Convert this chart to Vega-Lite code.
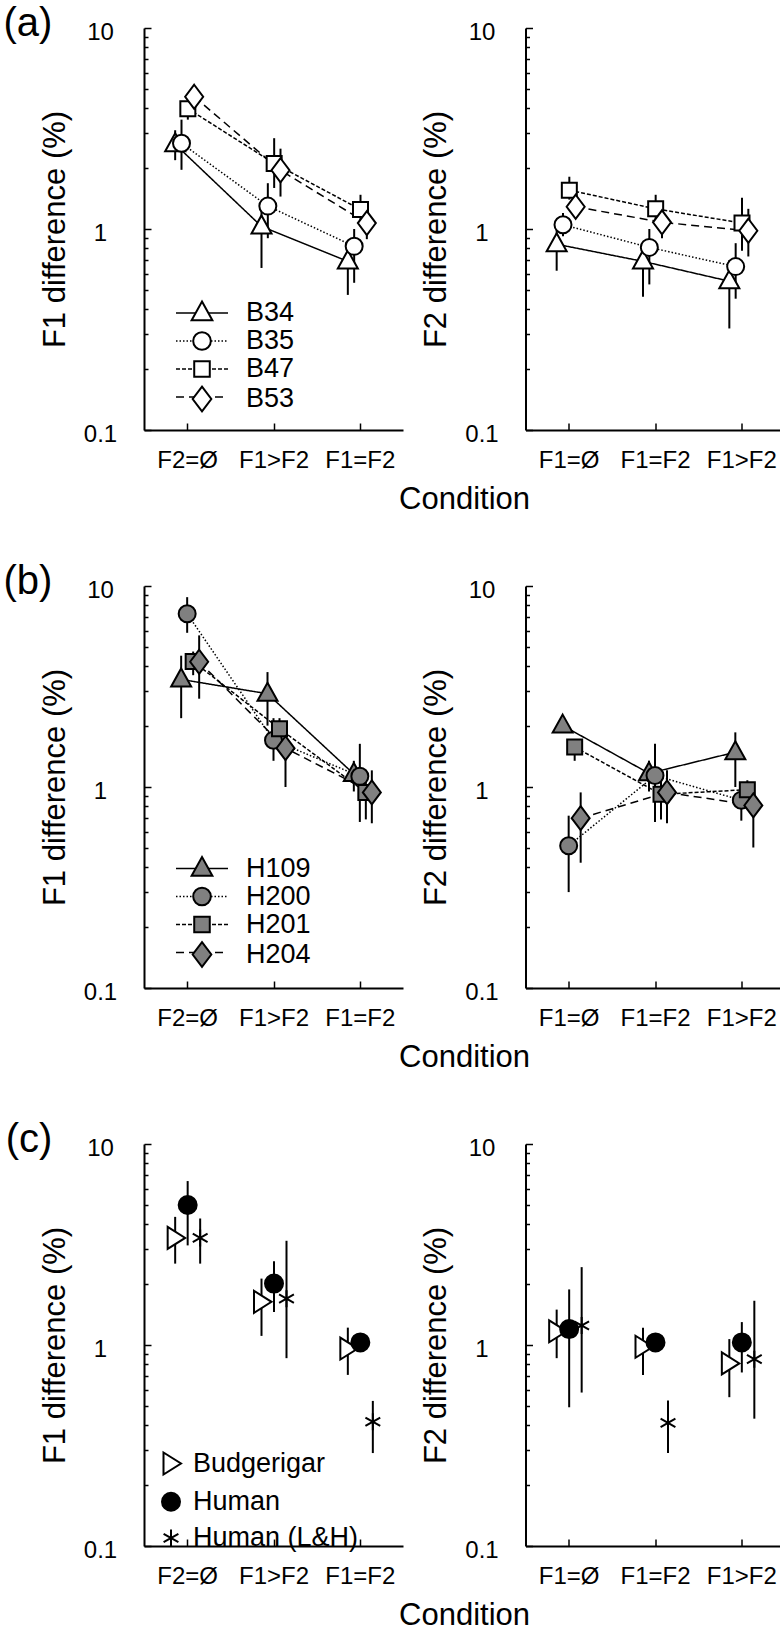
{
  "$schema": "https://vega.github.io/schema/vega-lite/v6.json",
  "background": "white",
  "padding": {"left": 3, "top": 4, "right": 0, "bottom": 0},
  "autosize": {"type": "pad"},
  "config": {
    "font": "Liberation Sans",
    "view": {"stroke": null},
    "axis": {"domainColor": "black", "domainWidth": 2, "tickColor": "black", "tickWidth": 1.5, "labelColor": "black", "titleColor": "black", "labelFont": "Liberation Sans", "titleFont": "Liberation Sans", "labelFontSize": 24, "titleFontSize": 31, "titleFontWeight": "normal", "grid": false, "labelFlush": false, "labelOverlap": false},
    "axisX": {"labelAngle": 0, "tickSize": -7, "labelPadding": 25},
    "axisY": {"labelAlign": "center", "labelBaseline": "middle", "labelPadding": 51, "labelOffset": 4, "titlePadding": 12},
    "legend": {"labelFont": "Liberation Sans", "labelColor": "black", "labelFontSize": 27, "labelLimit": 400, "rowPadding": 0, "padding": 0, "titlePadding": 0},
    "title": {"font": "Liberation Sans", "fontWeight": "normal", "color": "black"}
  },
  "datasets": {
    "a": [
      {"measure": "F1", "cond": "F2=Ø", "subject": "B34", "value": 2.64, "lo": 2.2, "hi": 3.1},
      {"measure": "F1", "cond": "F1>F2", "subject": "B34", "value": 1.03, "lo": 0.64, "hi": 1.32},
      {"measure": "F1", "cond": "F1=F2", "subject": "B34", "value": 0.69, "lo": 0.47, "hi": 0.88},
      {"measure": "F1", "cond": "F2=Ø", "subject": "B35", "value": 2.67, "lo": 1.97, "hi": 3.5},
      {"measure": "F1", "cond": "F1>F2", "subject": "B35", "value": 1.3, "lo": 0.9, "hi": 1.69},
      {"measure": "F1", "cond": "F1=F2", "subject": "B35", "value": 0.82, "lo": 0.54, "hi": 1.0},
      {"measure": "F1", "cond": "F2=Ø", "subject": "B47", "value": 3.97, "lo": 3.5, "hi": 4.5},
      {"measure": "F1", "cond": "F1>F2", "subject": "B47", "value": 2.12, "lo": 1.6, "hi": 2.83},
      {"measure": "F1", "cond": "F1=F2", "subject": "B47", "value": 1.25, "lo": 1.03, "hi": 1.48},
      {"measure": "F1", "cond": "F2=Ø", "subject": "B53", "value": 4.55, "lo": 4.15, "hi": 5.0},
      {"measure": "F1", "cond": "F1>F2", "subject": "B53", "value": 1.96, "lo": 1.45, "hi": 2.51},
      {"measure": "F1", "cond": "F1=F2", "subject": "B53", "value": 1.07, "lo": 0.89, "hi": 1.25},
      {"measure": "F2", "cond": "F1=Ø", "subject": "B34", "value": 0.84, "lo": 0.62, "hi": 1.0},
      {"measure": "F2", "cond": "F1=F2", "subject": "B34", "value": 0.69, "lo": 0.46, "hi": 0.86},
      {"measure": "F2", "cond": "F1>F2", "subject": "B34", "value": 0.55, "lo": 0.32, "hi": 0.7},
      {"measure": "F2", "cond": "F1=Ø", "subject": "B35", "value": 1.05, "lo": 0.92, "hi": 1.2},
      {"measure": "F2", "cond": "F1=F2", "subject": "B35", "value": 0.81, "lo": 0.53, "hi": 1.0},
      {"measure": "F2", "cond": "F1>F2", "subject": "B35", "value": 0.65, "lo": 0.45, "hi": 0.85},
      {"measure": "F2", "cond": "F1=Ø", "subject": "B47", "value": 1.56, "lo": 1.4, "hi": 1.82},
      {"measure": "F2", "cond": "F1=F2", "subject": "B47", "value": 1.26, "lo": 1.1, "hi": 1.48},
      {"measure": "F2", "cond": "F1>F2", "subject": "B47", "value": 1.07, "lo": 0.78, "hi": 1.43},
      {"measure": "F2", "cond": "F1=Ø", "subject": "B53", "value": 1.29, "lo": 1.2, "hi": 1.4},
      {"measure": "F2", "cond": "F1=F2", "subject": "B53", "value": 1.08, "lo": 0.9, "hi": 1.23},
      {"measure": "F2", "cond": "F1>F2", "subject": "B53", "value": 0.98, "lo": 0.73, "hi": 1.26}
    ],
    "b": [
      {"measure": "F1", "cond": "F2=Ø", "subject": "H109", "value": 3.43, "lo": 2.2, "hi": 4.5},
      {"measure": "F1", "cond": "F1>F2", "subject": "H109", "value": 2.91, "lo": 2.02, "hi": 3.73},
      {"measure": "F1", "cond": "F1=F2", "subject": "H109", "value": 1.16, "lo": 0.95, "hi": 1.35},
      {"measure": "F1", "cond": "F2=Ø", "subject": "H200", "value": 7.28, "lo": 5.85, "hi": 8.8},
      {"measure": "F1", "cond": "F1>F2", "subject": "H200", "value": 1.71, "lo": 1.35, "hi": 2.2},
      {"measure": "F1", "cond": "F1=F2", "subject": "H200", "value": 1.13, "lo": 0.67, "hi": 1.64},
      {"measure": "F1", "cond": "F2=Ø", "subject": "H201", "value": 4.21, "lo": 3.6, "hi": 4.72},
      {"measure": "F1", "cond": "F1>F2", "subject": "H201", "value": 1.95, "lo": 1.65, "hi": 2.2},
      {"measure": "F1", "cond": "F1=F2", "subject": "H201", "value": 0.94, "lo": 0.69, "hi": 1.2},
      {"measure": "F1", "cond": "F2=Ø", "subject": "H204", "value": 4.2, "lo": 2.75, "hi": 5.68},
      {"measure": "F1", "cond": "F1>F2", "subject": "H204", "value": 1.56, "lo": 1.0, "hi": 2.02},
      {"measure": "F1", "cond": "F1=F2", "subject": "H204", "value": 0.94, "lo": 0.66, "hi": 1.21},
      {"measure": "F2", "cond": "F1=Ø", "subject": "H109", "value": 2.02, "lo": 1.9, "hi": 2.15},
      {"measure": "F2", "cond": "F1=F2", "subject": "H109", "value": 1.17, "lo": 0.95, "hi": 1.35},
      {"measure": "F2", "cond": "F1>F2", "subject": "H109", "value": 1.49, "lo": 1.0, "hi": 1.87},
      {"measure": "F2", "cond": "F1=Ø", "subject": "H200", "value": 0.51, "lo": 0.3, "hi": 0.72},
      {"measure": "F2", "cond": "F1=F2", "subject": "H200", "value": 1.14, "lo": 0.67, "hi": 1.64},
      {"measure": "F2", "cond": "F1>F2", "subject": "H200", "value": 0.86, "lo": 0.68, "hi": 1.0},
      {"measure": "F2", "cond": "F1=Ø", "subject": "H201", "value": 1.58, "lo": 1.35, "hi": 1.7},
      {"measure": "F2", "cond": "F1=F2", "subject": "H201", "value": 0.92, "lo": 0.69, "hi": 1.15},
      {"measure": "F2", "cond": "F1>F2", "subject": "H201", "value": 0.97, "lo": 0.8, "hi": 1.08},
      {"measure": "F2", "cond": "F1=Ø", "subject": "H204", "value": 0.7, "lo": 0.42, "hi": 0.94},
      {"measure": "F2", "cond": "F1=F2", "subject": "H204", "value": 0.94, "lo": 0.66, "hi": 1.21},
      {"measure": "F2", "cond": "F1>F2", "subject": "H204", "value": 0.81, "lo": 0.5, "hi": 0.98}
    ],
    "c": [
      {"measure": "F1", "cond": "F2=Ø", "species": "Budgerigar", "value": 3.41, "lo": 2.54, "hi": 4.34},
      {"measure": "F1", "cond": "F1>F2", "species": "Budgerigar", "value": 1.64, "lo": 1.11, "hi": 2.14},
      {"measure": "F1", "cond": "F1=F2", "species": "Budgerigar", "value": 0.96, "lo": 0.71, "hi": 1.22},
      {"measure": "F1", "cond": "F2=Ø", "species": "Human", "value": 4.97, "lo": 3.13, "hi": 6.54},
      {"measure": "F1", "cond": "F1>F2", "species": "Human", "value": 2.02, "lo": 1.46, "hi": 2.61},
      {"measure": "F1", "cond": "F1=F2", "species": "Human", "value": 1.03, "lo": 0.97, "hi": 1.09},
      {"measure": "F1", "cond": "F2=Ø", "species": "Human (L&H)", "value": 3.41, "lo": 2.54, "hi": 4.26},
      {"measure": "F1", "cond": "F1>F2", "species": "Human (L&H)", "value": 1.7, "lo": 0.86, "hi": 3.3},
      {"measure": "F1", "cond": "F1=F2", "species": "Human (L&H)", "value": 0.415, "lo": 0.29, "hi": 0.527},
      {"measure": "F2", "cond": "F1=Ø", "species": "Budgerigar", "value": 1.17, "lo": 0.86, "hi": 1.5},
      {"measure": "F2", "cond": "F1=F2", "species": "Budgerigar", "value": 0.98, "lo": 0.71, "hi": 1.22},
      {"measure": "F2", "cond": "F1>F2", "species": "Budgerigar", "value": 0.81, "lo": 0.55, "hi": 1.07},
      {"measure": "F2", "cond": "F1=Ø", "species": "Human", "value": 1.2, "lo": 0.49, "hi": 1.89},
      {"measure": "F2", "cond": "F1=F2", "species": "Human", "value": 1.03, "lo": 0.97, "hi": 1.09},
      {"measure": "F2", "cond": "F1>F2", "species": "Human", "value": 1.03, "lo": 0.73, "hi": 1.3},
      {"measure": "F2", "cond": "F1=Ø", "species": "Human (L&H)", "value": 1.25, "lo": 0.58, "hi": 2.44},
      {"measure": "F2", "cond": "F1=F2", "species": "Human (L&H)", "value": 0.41, "lo": 0.29, "hi": 0.53},
      {"measure": "F2", "cond": "F1>F2", "species": "Human (L&H)", "value": 0.85, "lo": 0.43, "hi": 1.66}
    ]
  },
  "columns": 2,
  "spacing": {"row": 156, "column": 122.5},
  "bounds": "flush",
  "resolve": {"scale": {"x": "independent", "y": "independent", "xOffset": "independent", "shape": "independent", "strokeDash": "independent", "fill": "independent"}},
  "concat": [
    {
      "width": 259, "height": 402,
      "title": {"text": "(a)", "orient": "left", "angle": 0, "anchor": "end", "frame": "group", "align": "left", "baseline": "middle", "fontSize": 40, "offset": -13, "dy": -4},
      "data": {"name": "a"},
      "transform": [{"filter": "datum.measure == 'F1'"}],
      "encoding": {
        "x": {"field": "cond", "type": "nominal", "sort": ["F2=Ø", "F1>F2", "F1=F2"], "scale": {"type": "point", "padding": 0.5}, "axis": {"title": "Condition", "titleX": 320, "titleY": 78, "titleBaseline": "alphabetic", "titleAlign": "center"}},
        "xOffset": {"field": "subject", "type": "nominal", "scale": {"type": "point", "range": [-12, 7], "padding": 0}}
      },
      "layer": [
        {"mark": {"type": "rule", "color": "black", "strokeWidth": 2},
         "encoding": {"y": {"field": "lo", "type": "quantitative", "scale": {"type": "log", "domain": [0.1, 10]}, "axis": {"title": "F1 difference (%)", "values": [0.1,0.2,0.3,0.4,0.5,0.6,0.7,0.8,0.9,1,2,3,4,5,6,7,8,9,10], "labelExpr": "datum.value == 0.1 ? '0.1' : datum.value == 1 ? '1' : datum.value == 10 ? '10' : ''", "tickSize": {"condition": {"test": "datum.value == 0.1 || datum.value == 1 || datum.value == 10", "value": -7}, "value": -4}}}, "y2": {"field": "hi"}}},
        {"mark": {"type": "line", "color": "black", "strokeWidth": 1.5},
         "encoding": {"y": {"field": "value", "type": "quantitative", "scale": {"type": "log", "domain": [0.1, 10]}, "axis": {"title": "F1 difference (%)", "values": [0.1,0.2,0.3,0.4,0.5,0.6,0.7,0.8,0.9,1,2,3,4,5,6,7,8,9,10], "labelExpr": "datum.value == 0.1 ? '0.1' : datum.value == 1 ? '1' : datum.value == 10 ? '10' : ''", "tickSize": {"condition": {"test": "datum.value == 0.1 || datum.value == 1 || datum.value == 10", "value": -7}, "value": -4}}},
                      "strokeDash": {"field": "subject", "type": "nominal", "scale": {"range": [[1, 0], [1.5, 2], [4, 2], [8, 5]]}, "legend": {"orient": "none", "legendX": 44.5, "legendY": 271.5, "title": null, "symbolType": "M-2.6,0L2.6,0", "symbolSize": 400, "symbolStrokeWidth": 1.5, "labelExpr": "''", "labelOpacity": 0, "zindex": 1}}}},
        {"mark": {"type": "point", "filled": true, "fill": "white", "stroke": "black", "strokeWidth": 2, "size": 400, "opacity": 1},
         "encoding": {"y": {"field": "value", "type": "quantitative", "scale": {"type": "log", "domain": [0.1, 10]}, "axis": {"title": "F1 difference (%)", "values": [0.1,0.2,0.3,0.4,0.5,0.6,0.7,0.8,0.9,1,2,3,4,5,6,7,8,9,10], "labelExpr": "datum.value == 0.1 ? '0.1' : datum.value == 1 ? '1' : datum.value == 10 ? '10' : ''", "tickSize": {"condition": {"test": "datum.value == 0.1 || datum.value == 1 || datum.value == 10", "value": -7}, "value": -4}}},
                      "shape": {"field": "subject", "type": "nominal", "scale": {"domain": ["B34", "B35", "B47", "B53"], "range": ["M0,-1.1L1,0.7L-1,0.7Z", "M0.85,0A0.85,0.85,0,1,1,-0.85,0A0.85,0.85,0,1,1,0.85,0Z", "M-0.75,-0.75L0.75,-0.75L0.75,0.75L-0.75,0.75Z", "M0,-1.2L0.9,0L0,1.2L-0.9,0Z"]}, "legend": {"orient": "none", "legendX": 44.5, "legendY": 271.5, "title": null, "symbolSize": 430, "symbolStrokeWidth": 2, "labelOffset": 30.5, "zindex": 2}}}}
      ]
    },
    {
      "width": 259, "height": 402,
      "data": {"name": "a"},
      "transform": [{"filter": "datum.measure == 'F2'"}],
      "encoding": {
        "x": {"field": "cond", "type": "nominal", "sort": ["F1=Ø", "F1=F2", "F1>F2"], "scale": {"type": "point", "padding": 0.5}, "axis": {"title": null}},
        "xOffset": {"field": "subject", "type": "nominal", "scale": {"type": "point", "range": [-12, 7], "padding": 0}}
      },
      "layer": [
        {"mark": {"type": "rule", "color": "black", "strokeWidth": 2},
         "encoding": {"y": {"field": "lo", "type": "quantitative", "scale": {"type": "log", "domain": [0.1, 10]}, "axis": {"title": "F2 difference (%)", "values": [0.1,0.2,0.3,0.4,0.5,0.6,0.7,0.8,0.9,1,2,3,4,5,6,7,8,9,10], "labelExpr": "datum.value == 0.1 ? '0.1' : datum.value == 1 ? '1' : datum.value == 10 ? '10' : ''", "tickSize": {"condition": {"test": "datum.value == 0.1 || datum.value == 1 || datum.value == 10", "value": -7}, "value": -4}}}, "y2": {"field": "hi"}}},
        {"mark": {"type": "line", "color": "black", "strokeWidth": 1.5},
         "encoding": {"y": {"field": "value", "type": "quantitative", "scale": {"type": "log", "domain": [0.1, 10]}, "axis": {"title": "F2 difference (%)", "values": [0.1,0.2,0.3,0.4,0.5,0.6,0.7,0.8,0.9,1,2,3,4,5,6,7,8,9,10], "labelExpr": "datum.value == 0.1 ? '0.1' : datum.value == 1 ? '1' : datum.value == 10 ? '10' : ''", "tickSize": {"condition": {"test": "datum.value == 0.1 || datum.value == 1 || datum.value == 10", "value": -7}, "value": -4}}},
                      "strokeDash": {"field": "subject", "type": "nominal", "scale": {"range": [[1, 0], [1.5, 2], [4, 2], [8, 5]]}, "legend": null}}},
        {"mark": {"type": "point", "filled": true, "fill": "white", "stroke": "black", "strokeWidth": 2, "size": 400, "opacity": 1},
         "encoding": {"y": {"field": "value", "type": "quantitative", "scale": {"type": "log", "domain": [0.1, 10]}, "axis": {"title": "F2 difference (%)", "values": [0.1,0.2,0.3,0.4,0.5,0.6,0.7,0.8,0.9,1,2,3,4,5,6,7,8,9,10], "labelExpr": "datum.value == 0.1 ? '0.1' : datum.value == 1 ? '1' : datum.value == 10 ? '10' : ''", "tickSize": {"condition": {"test": "datum.value == 0.1 || datum.value == 1 || datum.value == 10", "value": -7}, "value": -4}}},
                      "shape": {"field": "subject", "type": "nominal", "scale": {"domain": ["B34", "B35", "B47", "B53"], "range": ["M0,-1.1L1,0.7L-1,0.7Z", "M0.85,0A0.85,0.85,0,1,1,-0.85,0A0.85,0.85,0,1,1,0.85,0Z", "M-0.75,-0.75L0.75,-0.75L0.75,0.75L-0.75,0.75Z", "M0,-1.2L0.9,0L0,1.2L-0.9,0Z"]}, "legend": null}}}
      ]
    },
    {
      "width": 259, "height": 402,
      "title": {"text": "(b)", "orient": "left", "angle": 0, "anchor": "end", "frame": "group", "align": "left", "baseline": "middle", "fontSize": 40, "offset": -13, "dy": -4},
      "data": {"name": "b"},
      "transform": [{"filter": "datum.measure == 'F1'"}],
      "encoding": {
        "x": {"field": "cond", "type": "nominal", "sort": ["F2=Ø", "F1>F2", "F1=F2"], "scale": {"type": "point", "padding": 0.5}, "axis": {"title": "Condition", "titleX": 320, "titleY": 78, "titleBaseline": "alphabetic", "titleAlign": "center"}},
        "xOffset": {"field": "subject", "type": "nominal", "scale": {"type": "point", "range": [-6, 12], "padding": 0}}
      },
      "layer": [
        {"mark": {"type": "rule", "color": "black", "strokeWidth": 2},
         "encoding": {"y": {"field": "lo", "type": "quantitative", "scale": {"type": "log", "domain": [0.1, 10]}, "axis": {"title": "F1 difference (%)", "values": [0.1,0.2,0.3,0.4,0.5,0.6,0.7,0.8,0.9,1,2,3,4,5,6,7,8,9,10], "labelExpr": "datum.value == 0.1 ? '0.1' : datum.value == 1 ? '1' : datum.value == 10 ? '10' : ''", "tickSize": {"condition": {"test": "datum.value == 0.1 || datum.value == 1 || datum.value == 10", "value": -7}, "value": -4}}}, "y2": {"field": "hi"}}},
        {"mark": {"type": "line", "color": "black", "strokeWidth": 1.5},
         "encoding": {"y": {"field": "value", "type": "quantitative", "scale": {"type": "log", "domain": [0.1, 10]}, "axis": {"title": "F1 difference (%)", "values": [0.1,0.2,0.3,0.4,0.5,0.6,0.7,0.8,0.9,1,2,3,4,5,6,7,8,9,10], "labelExpr": "datum.value == 0.1 ? '0.1' : datum.value == 1 ? '1' : datum.value == 10 ? '10' : ''", "tickSize": {"condition": {"test": "datum.value == 0.1 || datum.value == 1 || datum.value == 10", "value": -7}, "value": -4}}},
                      "strokeDash": {"field": "subject", "type": "nominal", "scale": {"range": [[1, 0], [1.5, 2], [4, 2], [8, 5]]}, "legend": {"orient": "none", "legendX": 44.5, "legendY": 269, "title": null, "symbolType": "M-2.6,0L2.6,0", "symbolSize": 400, "symbolStrokeWidth": 1.5, "labelExpr": "''", "labelOpacity": 0, "zindex": 1}}}},
        {"mark": {"type": "point", "filled": true, "fill": "#808080", "stroke": "black", "strokeWidth": 2, "size": 400, "opacity": 1},
         "encoding": {"y": {"field": "value", "type": "quantitative", "scale": {"type": "log", "domain": [0.1, 10]}, "axis": {"title": "F1 difference (%)", "values": [0.1,0.2,0.3,0.4,0.5,0.6,0.7,0.8,0.9,1,2,3,4,5,6,7,8,9,10], "labelExpr": "datum.value == 0.1 ? '0.1' : datum.value == 1 ? '1' : datum.value == 10 ? '10' : ''", "tickSize": {"condition": {"test": "datum.value == 0.1 || datum.value == 1 || datum.value == 10", "value": -7}, "value": -4}}},
                      "shape": {"field": "subject", "type": "nominal", "scale": {"domain": ["H109", "H200", "H201", "H204"], "range": ["M0,-1.1L1,0.7L-1,0.7Z", "M0.85,0A0.85,0.85,0,1,1,-0.85,0A0.85,0.85,0,1,1,0.85,0Z", "M-0.75,-0.75L0.75,-0.75L0.75,0.75L-0.75,0.75Z", "M0,-1.2L0.9,0L0,1.2L-0.9,0Z"]}, "legend": {"orient": "none", "legendX": 44.5, "legendY": 269, "title": null, "symbolSize": 430, "symbolStrokeWidth": 2, "labelOffset": 30.5, "zindex": 2}}}}
      ]
    },
    {
      "width": 259, "height": 402,
      "data": {"name": "b"},
      "transform": [{"filter": "datum.measure == 'F2'"}],
      "encoding": {
        "x": {"field": "cond", "type": "nominal", "sort": ["F1=Ø", "F1=F2", "F1>F2"], "scale": {"type": "point", "padding": 0.5}, "axis": {"title": null}},
        "xOffset": {"field": "subject", "type": "nominal", "scale": {"type": "point", "range": [-6, 12], "padding": 0}}
      },
      "layer": [
        {"mark": {"type": "rule", "color": "black", "strokeWidth": 2},
         "encoding": {"y": {"field": "lo", "type": "quantitative", "scale": {"type": "log", "domain": [0.1, 10]}, "axis": {"title": "F2 difference (%)", "values": [0.1,0.2,0.3,0.4,0.5,0.6,0.7,0.8,0.9,1,2,3,4,5,6,7,8,9,10], "labelExpr": "datum.value == 0.1 ? '0.1' : datum.value == 1 ? '1' : datum.value == 10 ? '10' : ''", "tickSize": {"condition": {"test": "datum.value == 0.1 || datum.value == 1 || datum.value == 10", "value": -7}, "value": -4}}}, "y2": {"field": "hi"}}},
        {"mark": {"type": "line", "color": "black", "strokeWidth": 1.5},
         "encoding": {"y": {"field": "value", "type": "quantitative", "scale": {"type": "log", "domain": [0.1, 10]}, "axis": {"title": "F2 difference (%)", "values": [0.1,0.2,0.3,0.4,0.5,0.6,0.7,0.8,0.9,1,2,3,4,5,6,7,8,9,10], "labelExpr": "datum.value == 0.1 ? '0.1' : datum.value == 1 ? '1' : datum.value == 10 ? '10' : ''", "tickSize": {"condition": {"test": "datum.value == 0.1 || datum.value == 1 || datum.value == 10", "value": -7}, "value": -4}}},
                      "strokeDash": {"field": "subject", "type": "nominal", "scale": {"range": [[1, 0], [1.5, 2], [4, 2], [8, 5]]}, "legend": null}}},
        {"mark": {"type": "point", "filled": true, "fill": "#808080", "stroke": "black", "strokeWidth": 2, "size": 400, "opacity": 1},
         "encoding": {"y": {"field": "value", "type": "quantitative", "scale": {"type": "log", "domain": [0.1, 10]}, "axis": {"title": "F2 difference (%)", "values": [0.1,0.2,0.3,0.4,0.5,0.6,0.7,0.8,0.9,1,2,3,4,5,6,7,8,9,10], "labelExpr": "datum.value == 0.1 ? '0.1' : datum.value == 1 ? '1' : datum.value == 10 ? '10' : ''", "tickSize": {"condition": {"test": "datum.value == 0.1 || datum.value == 1 || datum.value == 10", "value": -7}, "value": -4}}},
                      "shape": {"field": "subject", "type": "nominal", "scale": {"domain": ["H109", "H200", "H201", "H204"], "range": ["M0,-1.1L1,0.7L-1,0.7Z", "M0.85,0A0.85,0.85,0,1,1,-0.85,0A0.85,0.85,0,1,1,0.85,0Z", "M-0.75,-0.75L0.75,-0.75L0.75,0.75L-0.75,0.75Z", "M0,-1.2L0.9,0L0,1.2L-0.9,0Z"]}, "legend": null}}}
      ]
    },
    {
      "width": 259, "height": 402,
      "title": {"text": "(c)", "orient": "left", "angle": 0, "anchor": "end", "frame": "group", "align": "left", "baseline": "middle", "fontSize": 40, "offset": -13, "dy": -4},
      "data": {"name": "c"},
      "transform": [{"filter": "datum.measure == 'F1'"}],
      "encoding": {
        "x": {"field": "cond", "type": "nominal", "sort": ["F2=Ø", "F1>F2", "F1=F2"], "scale": {"type": "point", "padding": 0.5}, "axis": {"title": "Condition", "titleX": 320, "titleY": 78, "titleBaseline": "alphabetic", "titleAlign": "center"}},
        "xOffset": {"field": "species", "type": "nominal", "scale": {"type": "point", "range": [-12, 13], "padding": 0}}
      },
      "layer": [
        {"mark": {"type": "rule", "color": "black", "strokeWidth": 2},
         "encoding": {"y": {"field": "lo", "type": "quantitative", "scale": {"type": "log", "domain": [0.1, 10]}, "axis": {"title": "F1 difference (%)", "values": [0.1,0.2,0.3,0.4,0.5,0.6,0.7,0.8,0.9,1,2,3,4,5,6,7,8,9,10], "labelExpr": "datum.value == 0.1 ? '0.1' : datum.value == 1 ? '1' : datum.value == 10 ? '10' : ''", "tickSize": {"condition": {"test": "datum.value == 0.1 || datum.value == 1 || datum.value == 10", "value": -7}, "value": -4}}}, "y2": {"field": "hi"}}},
        {"mark": {"type": "point", "filled": true, "stroke": "black", "strokeWidth": 2, "size": 400, "opacity": 1},
         "encoding": {"y": {"field": "value", "type": "quantitative", "scale": {"type": "log", "domain": [0.1, 10]}, "axis": {"title": "F1 difference (%)", "values": [0.1,0.2,0.3,0.4,0.5,0.6,0.7,0.8,0.9,1,2,3,4,5,6,7,8,9,10], "labelExpr": "datum.value == 0.1 ? '0.1' : datum.value == 1 ? '1' : datum.value == 10 ? '10' : ''", "tickSize": {"condition": {"test": "datum.value == 0.1 || datum.value == 1 || datum.value == 10", "value": -7}, "value": -4}}},
                      "shape": {"field": "species", "type": "nominal", "scale": {"domain": ["Budgerigar", "Human", "Human (L&H)"], "range": ["M-0.75,-1.1L1,0L-0.75,1.1Z", "M0.9,0A0.9,0.9,0,1,1,-0.9,0A0.9,0.9,0,1,1,0.9,0Z", "M0,-0.85L0,0.85M-0.74,-0.42L0.74,0.42M-0.74,0.42L0.74,-0.42"]}, "legend": {"orient": "none", "legendX": 13.5, "legendY": 306, "title": null, "symbolSize": 400, "symbolStrokeWidth": 2, "labelOffset": 8.5, "rowPadding": 8.25}},
                      "fill": {"field": "species", "type": "nominal", "scale": {"domain": ["Budgerigar", "Human", "Human (L&H)"], "range": ["white", "black", "transparent"]}, "legend": {"orient": "none", "legendX": 13.5, "legendY": 306, "title": null, "symbolSize": 400, "symbolStrokeWidth": 2, "labelOffset": 8.5, "rowPadding": 8.25}}}}
      ]
    },
    {
      "width": 259, "height": 402,
      "data": {"name": "c"},
      "transform": [{"filter": "datum.measure == 'F2'"}],
      "encoding": {
        "x": {"field": "cond", "type": "nominal", "sort": ["F1=Ø", "F1=F2", "F1>F2"], "scale": {"type": "point", "padding": 0.5}, "axis": {"title": null}},
        "xOffset": {"field": "species", "type": "nominal", "scale": {"type": "point", "range": [-12, 13], "padding": 0}}
      },
      "layer": [
        {"mark": {"type": "rule", "color": "black", "strokeWidth": 2},
         "encoding": {"y": {"field": "lo", "type": "quantitative", "scale": {"type": "log", "domain": [0.1, 10]}, "axis": {"title": "F2 difference (%)", "values": [0.1,0.2,0.3,0.4,0.5,0.6,0.7,0.8,0.9,1,2,3,4,5,6,7,8,9,10], "labelExpr": "datum.value == 0.1 ? '0.1' : datum.value == 1 ? '1' : datum.value == 10 ? '10' : ''", "tickSize": {"condition": {"test": "datum.value == 0.1 || datum.value == 1 || datum.value == 10", "value": -7}, "value": -4}}}, "y2": {"field": "hi"}}},
        {"mark": {"type": "point", "filled": true, "stroke": "black", "strokeWidth": 2, "size": 400, "opacity": 1},
         "encoding": {"y": {"field": "value", "type": "quantitative", "scale": {"type": "log", "domain": [0.1, 10]}, "axis": {"title": "F2 difference (%)", "values": [0.1,0.2,0.3,0.4,0.5,0.6,0.7,0.8,0.9,1,2,3,4,5,6,7,8,9,10], "labelExpr": "datum.value == 0.1 ? '0.1' : datum.value == 1 ? '1' : datum.value == 10 ? '10' : ''", "tickSize": {"condition": {"test": "datum.value == 0.1 || datum.value == 1 || datum.value == 10", "value": -7}, "value": -4}}},
                      "shape": {"field": "species", "type": "nominal", "scale": {"domain": ["Budgerigar", "Human", "Human (L&H)"], "range": ["M-0.75,-1.1L1,0L-0.75,1.1Z", "M0.9,0A0.9,0.9,0,1,1,-0.9,0A0.9,0.9,0,1,1,0.9,0Z", "M0,-0.85L0,0.85M-0.74,-0.42L0.74,0.42M-0.74,0.42L0.74,-0.42"]}, "legend": null},
                      "fill": {"field": "species", "type": "nominal", "scale": {"domain": ["Budgerigar", "Human", "Human (L&H)"], "range": ["white", "black", "transparent"]}, "legend": null}}}
      ]
    }
  ]
}
